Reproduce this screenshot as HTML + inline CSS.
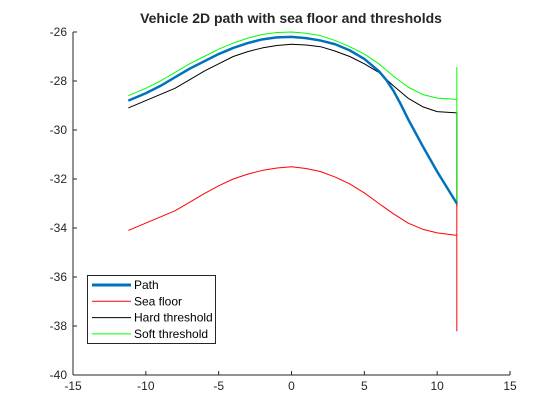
<!DOCTYPE html>
<html><head><meta charset="utf-8"><style>
body{margin:0;background:#fff;}
svg{display:block;font-family:"Liberation Sans",sans-serif;}
</style></head><body>
<svg id="chart" width="560" height="420">
<rect width="560" height="420" fill="#fff"/>
<text x="291" y="23" text-anchor="middle" font-size="14" font-weight="bold" fill="#262626">Vehicle 2D path with sea floor and thresholds</text>
<g id="axes"></g>
<g id="series"></g>
<g id="legend"></g>
</svg>
<script>
const xTicks=[-15,-10,-5,0,5,10,15];
const yTicks=[-40,-38,-36,-34,-32,-30,-28,-26];
const pathX=[-11.2,-10,-9,-8,-7,-6,-5,-4,-3,-2,-1,0,1,2,3,4,5,6,6.5,7,7.5,8,9,10,11.35];
const pathY=[-28.8,-28.5,-28.2,-27.85,-27.5,-27.2,-26.9,-26.65,-26.45,-26.3,-26.22,-26.2,-26.25,-26.35,-26.5,-26.75,-27.1,-27.6,-27.95,-28.4,-28.95,-29.55,-30.65,-31.7,-33.0];
const softX=[-11.2,-10,-9,-8,-7,-6,-5,-4,-3,-2,-1,0,1,2,3,4,5,6,7,8,9,10,11.35,11.35,11.35];
const softY=[-28.6,-28.3,-28.0,-27.65,-27.3,-27.0,-26.7,-26.45,-26.25,-26.1,-26.02,-26.0,-26.05,-26.15,-26.35,-26.6,-26.9,-27.3,-27.8,-28.25,-28.55,-28.7,-28.75,-27.45,-33.0];
const hardX=[-11.2,-10,-9,-8,-7,-6,-5,-4,-3,-2,-1,0,1,2,3,4,5,6,7,8,9,10,11.35,11.35];
const hardY=[-29.1,-28.8,-28.55,-28.3,-27.95,-27.6,-27.3,-27.0,-26.8,-26.65,-26.55,-26.5,-26.53,-26.6,-26.78,-27.0,-27.3,-27.65,-28.2,-28.7,-29.05,-29.25,-29.3,-33.1];
const seaX=[-11.2,-10,-9,-8,-7,-6,-5,-4,-3,-2,-1,0,1,2,3,4,5,6,7,8,9,10,11.35,11.35,11.35];
const seaY=[-34.1,-33.8,-33.55,-33.3,-32.95,-32.6,-32.28,-32.0,-31.8,-31.65,-31.55,-31.5,-31.57,-31.7,-31.92,-32.2,-32.57,-33.0,-33.42,-33.8,-34.05,-34.2,-34.3,-38.2,-33.0];

const L=73,R=510,T=32,B=375,xmin=-15,xmax=15,ymin=-40,ymax=-26;
const sx=v=>L+(v-xmin)/(xmax-xmin)*(R-L);
const sy=v=>B-(v-ymin)/(ymax-ymin)*(B-T);
const NS="http://www.w3.org/2000/svg";
function mk(t,a,p){const e=document.createElementNS(NS,t);for(const k in a)e.setAttribute(k,a[k]);p.appendChild(e);return e;}
const ax=document.getElementById('axes');
let e=mk('line',{x1:L,y1:B,x2:R,y2:B,stroke:'#262626','stroke-width':1},ax);


e=mk('line',{x1:L,y1:T,x2:L,y2:B,stroke:'#262626','stroke-width':1},ax);


xTicks.forEach(v=>{
 e=mk('line',{x1:sx(v),y1:B,x2:sx(v),y2:B-4,stroke:'#262626'},ax);
 
 
 e=mk('text',{x:sx(v),y:B+15,'text-anchor':'middle','font-size':12,fill:'#262626'},ax);
 e.textContent=v;
 
 
});
yTicks.forEach(v=>{
 e=mk('line',{x1:L,y1:sy(v),x2:L+4,y2:sy(v),stroke:'#262626'},ax);
 
 
 e=mk('text',{x:L-6,y:sy(v)+4,'text-anchor':'end','font-size':12,fill:'#262626'},ax);
 e.textContent=v;
 
 
});
const sg=document.getElementById('series');
function line(xs,ys,col,w,name){
 const p=mk('polyline',{points:xs.map((x,i)=>sx(x)+','+sy(ys[i])).join(' '),fill:'none',stroke:col,'stroke-width':w,'stroke-linejoin':'round'},sg);
 
 
}
line(hardX,hardY,'#000000',1,'hard-threshold-line');
line(seaX,seaY,'#ff0000',1,'sea-floor-line');
line(softX,softY,'#00ff00',1,'soft-threshold-line');
line(pathX,pathY,'#0072bd',2.5,'path-line');
const lg=document.getElementById('legend');
e=mk('rect',{x:87.5,y:275.5,width:128,height:68,fill:'#fff',stroke:'#262626','stroke-width':1},lg);


[['Path','#0072bd',3],['Sea floor','#ff0000',1],['Hard threshold','#000',1],['Soft threshold','#00ff00',1]].forEach((d,i)=>{
 const y=285+i*16.3;
 const g=mk('g',{},lg);
 
 
 mk('line',{x1:92,y1:y,x2:131,y2:y,stroke:d[1],'stroke-width':d[2]},g);
 const t=mk('text',{x:134,y:y+4,'font-size':12,fill:'#000'},g);
 t.textContent=d[0];
});
</script>
</body></html>
